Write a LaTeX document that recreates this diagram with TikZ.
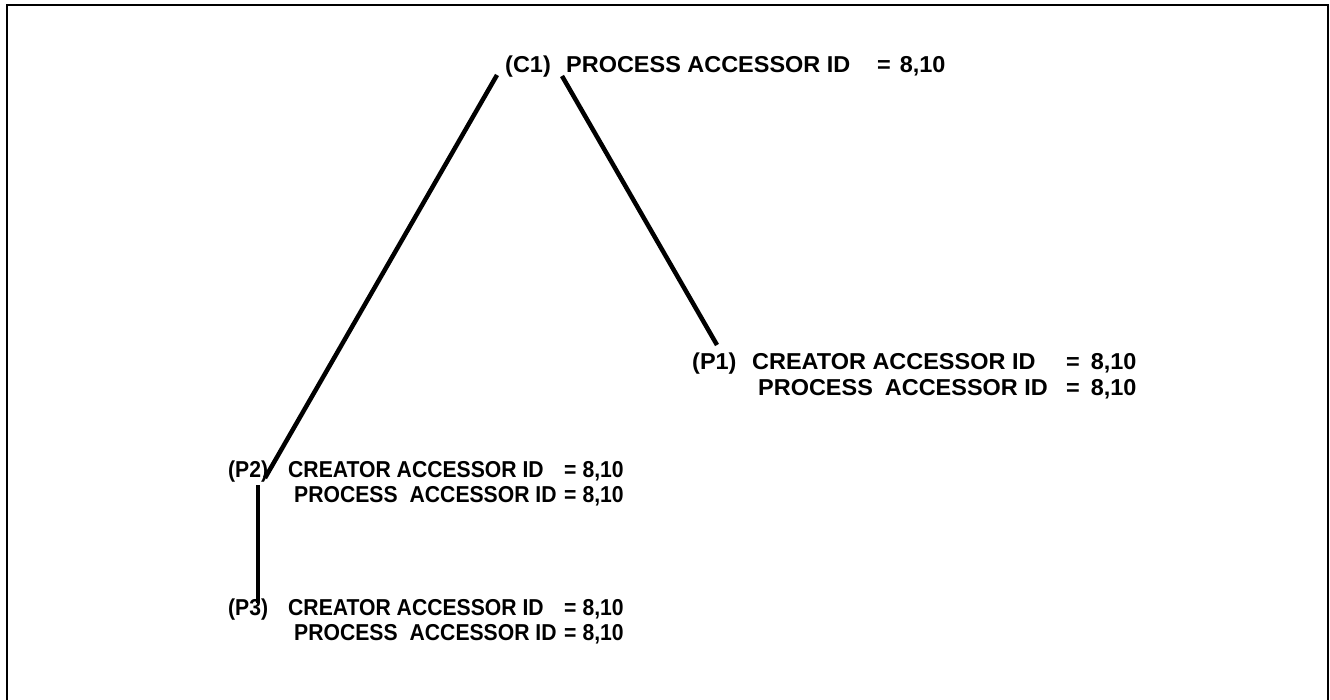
\documentclass[tikz,border=0pt]{standalone}
\usepackage{fontspec}
\setmainfont{Liberation Sans}
\newfontfamily\widesans[FakeStretch=1.02]{Liberation Sans}
\newfontfamily\narrowsans[FakeStretch=0.92]{Liberation Sans}
\usetikzlibrary{calc}
\tikzset{
  lbl/.style={anchor=base west, inner sep=0pt, font=\widesans\fontsize{23}{25}\selectfont\bfseries},
  lblb/.style={anchor=base west, inner sep=0pt, font=\narrowsans\fontsize{23}{25}\selectfont\bfseries},
  conn/.style={line width=4.5pt, line cap=butt},
  frame/.style={line width=2.2pt}
}
\begin{document}
\begin{tikzpicture}[x=1pt,y=-1pt]
\useasboundingbox (0,0) rectangle (1330,700);
\clip (0,0) rectangle (1330,700);
\draw[frame] (7,710) -- (7,5) -- (1328,5) -- (1328,710);

% C1
\node[lbl] (c1) at (505,73) {(C1)};
\node[lbl] (c1t) at (566,73) {\begin{tabular}[t]{@{}p{311pt}@{}c@{\hspace{9pt}}l@{}}PROCESS ACCESSOR ID & = & 8,10\end{tabular}};

% P1
\node[lbl] (p1) at (692,370) {(P1)};
\node[lbl] (p1t) at (752,370) {\begin{tabular}[t]{@{}p{314pt}@{}c@{\hspace{11pt}}l@{}}CREATOR ACCESSOR ID & = & 8,10\\ \hspace{6pt}PROCESS\hspace{12pt}ACCESSOR ID & = & 8,10\end{tabular}};

% P2
\node[lblb] (p2) at (228,477) {(P2)};
\node[lblb] (p2t) at (288,477) {\begin{tabular}[t]{@{}p{276pt}@{}c@{\hspace{6pt}}l@{}}CREATOR ACCESSOR ID & = & 8,10\\ \hspace{6pt}PROCESS\hspace{12pt}ACCESSOR ID & = & 8,10\end{tabular}};

% P3
\node[lblb] (p3) at (228,615) {(P3)};
\node[lblb] (p3t) at (288,615) {\begin{tabular}[t]{@{}p{276pt}@{}c@{\hspace{6pt}}l@{}}CREATOR ACCESSOR ID & = & 8,10\\ \hspace{6pt}PROCESS\hspace{12pt}ACCESSOR ID & = & 8,10\end{tabular}};

% connectors
\draw[conn] ($(c1.base west)+(-8,2)$) -- ($(p2.base west)+(37,1)$);
\draw[conn] ($(c1t.base west)+(-4,3)$) -- ($(p1.base west)+(25,-25)$);
\draw[conn] ($(p2.base west)+(30,8)$) -- ($(p3.base west)+(30,-12)$);
\end{tikzpicture}
\end{document}
